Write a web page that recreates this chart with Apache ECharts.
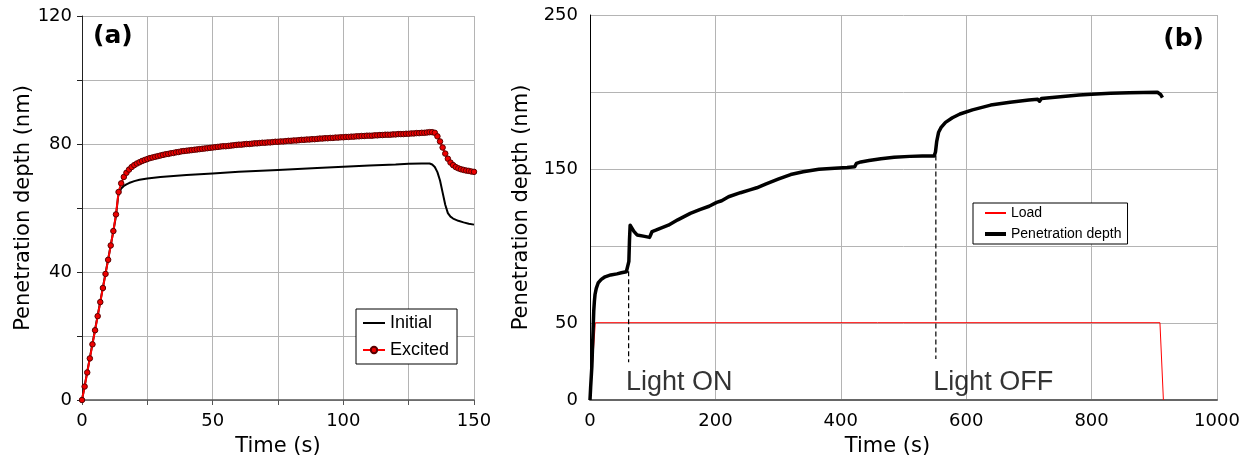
<!DOCTYPE html>
<html>
<head>
<meta charset="utf-8">
<script src="https://cdn.jsdelivr.net/npm/echarts@6.0.0/dist/echarts.min.js"></script>
<style>
    html, body { margin: 0; padding: 0; background: #fff; }
    #chart { width: 1244px; height: 462px; }
</style>
</head>
<body>
<div id="chart"></div>
<script>
// ---- (a) Initial / Excited, 0-150 s ----
var initialA = [[0,0],[2,8.8],[4,17.6],[6,26.4],[8,35.2],[10,44],[12,52.8],[13,57.5],[13.8,63.5],[14.5,65.3],[15,66.1],[16,66.9],[17,67.4],[18,67.8],[20,68.4],[22,68.8],[25,69.2],[30,69.7],[35,70.0],[40,70.3],[50,70.8],[60,71.3],[75,71.9],[90,72.5],[100,72.9],[110,73.3],[120,73.6],[125,73.8],[130,73.9],[133,73.9],[134,73.6],[135,72.8],[136,71.2],[137,68.6],[138,64.8],[139,61.0],[140,58.4],[141,57.3],[142,56.7],[144,56.0],[146,55.5],[148,55.1],[150,54.8]];

// excited run, one sample per second (t = 0..150 s)
var excitedTime = [0,1,2,3,4,5,6,7,8,9,10,11,12,13,14,15,16,17,18,19,20,21,22,23,24,25,26,27,28,29,30,31,32,33,34,35,36,37,38,39,40,41,42,43,44,45,46,47,48,49,50,51,52,53,54,55,56,57,58,59,60,61,62,63,64,65,66,67,68,69,70,71,72,73,74,75,76,77,78,79,80,81,82,83,84,85,86,87,88,89,90,91,92,93,94,95,96,97,98,99,100,101,102,103,104,105,106,107,108,109,110,111,112,113,114,115,116,117,118,119,120,121,122,123,124,125,126,127,128,129,130,131,132,133,134,135,136,137,138,139,140,141,142,143,144,145,146,147,148,149,150];
var excitedDepth = [0,4.2,8.6,13.0,17.4,21.8,26.2,30.6,35.0,39.4,43.8,48.3,52.8,58.0,65.0,67.7,69.7,71.0,72.0,72.8,73.4,73.9,74.3,74.7,75.0,75.3,75.6,75.8,76.0,76.2,76.4,76.6,76.8,76.9,77.1,77.2,77.4,77.5,77.7,77.8,77.9,78.0,78.1,78.2,78.3,78.4,78.5,78.6,78.7,78.8,78.9,79.0,79.1,79.2,79.3,79.3,79.4,79.5,79.6,79.7,79.8,79.8,79.9,80.0,80.0,80.1,80.2,80.2,80.3,80.4,80.4,80.5,80.5,80.6,80.7,80.7,80.8,80.8,80.9,81.0,81.0,81.1,81.1,81.2,81.3,81.3,81.4,81.4,81.5,81.5,81.6,81.7,81.7,81.8,81.8,81.9,81.9,82.0,82.0,82.1,82.1,82.2,82.2,82.3,82.3,82.4,82.4,82.5,82.5,82.6,82.6,82.6,82.7,82.7,82.8,82.8,82.9,82.9,82.9,83.0,83.0,83.1,83.1,83.1,83.2,83.2,83.3,83.3,83.4,83.4,83.5,83.5,83.6,83.7,83.7,83.5,82.4,80.8,78.9,77.0,75.4,74.2,73.4,72.8,72.4,72.1,71.9,71.7,71.6,71.4,71.3];

var depthLabelsA = [0, 40, 80, 120];
var timeLabelsA = [0, 50, 100, 150];

// ---- (b) Load / Penetration depth, 0-1000 s ----
var loadB = [[0,0],[8.5,50.2],[909,50.2],[914.5,0]];
var depthB = [[0,0],[1,8],[3,22],[5,46],[6,58],[7,64],[8,68.5],[10,72.5],[13,76],[18,78.3],[24,80],[33,81.2],[43,81.9],[50,82.6],[58,83.3],[61,83.6],[62,90],[63,104],[64,113.5],[66,112.5],[70,109.5],[75,107.2],[85,106.4],[95,105.6],[97,107.5],[99,109.4],[105,110.3],[112,111.5],[125,113.5],[140,117],[160,121.2],[175,123.6],[190,125.8],[202,128.3],[210,129.4],[221,132],[240,134.6],[255,136.4],[266,137.8],[280,140.2],[300,143.4],[320,146.4],[340,148.2],[365,149.8],[390,150.5],[410,150.9],[422,151.4],[425,153.6],[432,154.6],[445,155.5],[464,156.7],[485,157.6],[510,158.2],[530,158.5],[549,158.5],[551,161],[553,168],[556,173.9],[560,177],[567,180.3],[578,183.3],[590,185.7],[610,188.4],[639,191.5],[670,193.4],[700,194.8],[714,195.3],[717,194.0],[720,195.8],[750,196.9],[780,198.0],[800,198.6],[830,199.2],[860,199.5],[905,199.8],[908,199.7],[910,198.4],[913,196.3]];

var lightOnTime = 61.6;
var lightOnSpan = [24.5, 83.6];
var lightOffTime = 551.6;
var lightOffSpan = [26.6, 158.8];
var lightTexts = [['Light ON', 57.4, 11.5], ['Light OFF', 547.3, 11.5]];

var depthLabelsB = [0, 50, 150, 250];

var excitedA = [];
for (var i = 0; i < excitedTime.length; i++) {
    excitedA.push([excitedTime[i], excitedDepth[i]]);
}

var tickFont = 'DejaVu Sans';
var plainFont = 'Liberation Sans, Arial, sans-serif';
var gridColor = '#b4b4b4';

function onlyLabels(list) {
    return function (v) { return list.indexOf(v) >= 0 ? String(v) : ''; };
}

var chart = echarts.init(document.getElementById('chart'));

var option = {
    animation: false,
    backgroundColor: '#fff',
    grid: [
        { left: 82, right: 770, top: 16, bottom: 59, containLabel: false },
        { left: 590, right: 27, top: 15, bottom: 59, containLabel: false }
    ],
    xAxis: [
        {
            gridIndex: 0, type: 'value', min: 0, max: 150, interval: 25,
            name: 'Time (s)', nameLocation: 'middle', nameGap: 36,
            nameTextStyle: { fontFamily: tickFont, fontSize: 21, color: '#000' },
            axisLine: { lineStyle: { color: '#555', width: 1.5 } },
            axisTick: { show: true, length: 5, lineStyle: { color: '#555' } },
            axisLabel: { formatter: onlyLabels(timeLabelsA), fontFamily: tickFont, fontSize: 18, color: '#000', margin: 12 },
            splitLine: { show: true, lineStyle: { color: gridColor, width: 1 } }
        },
        {
            gridIndex: 1, type: 'value', min: 0, max: 1000, interval: 200,
            name: 'Time (s)', nameLocation: 'middle', nameGap: 36,
            nameTextStyle: { fontFamily: tickFont, fontSize: 21, color: '#000', padding: [0, 32, 0, 0] },
            axisLine: { lineStyle: { color: '#666', width: 2 } },
            axisTick: { show: false },
            axisLabel: { formatter: function (v) { return String(v); }, fontFamily: tickFont, fontSize: 18, color: '#000', margin: 12 },
            splitLine: { show: true, lineStyle: { color: gridColor, width: 1 } }
        }
    ],
    yAxis: [
        {
            gridIndex: 0, type: 'value', min: 0, max: 120, interval: 20,
            name: 'Penetration depth (nm)', nameLocation: 'middle', nameGap: 48,
            nameTextStyle: { fontFamily: tickFont, fontSize: 21, color: '#000' },
            axisLine: { show: true, lineStyle: { color: '#222', width: 1 } },
            axisTick: { show: true, length: 5, lineStyle: { color: '#222' } },
            axisLabel: { formatter: onlyLabels(depthLabelsA), fontFamily: tickFont, fontSize: 18, color: '#000', margin: 10 },
            splitLine: { show: true, lineStyle: { color: gridColor, width: 1 } }
        },
        {
            gridIndex: 1, type: 'value', min: 0, max: 250, interval: 50,
            name: 'Penetration depth (nm)', nameLocation: 'middle', nameGap: 58,
            nameTextStyle: { fontFamily: tickFont, fontSize: 21, color: '#000' },
            axisLine: { show: true, lineStyle: { color: '#000', width: 1 } },
            axisTick: { show: false },
            axisLabel: { formatter: onlyLabels(depthLabelsB), fontFamily: tickFont, fontSize: 18, color: '#000', margin: 12 },
            splitLine: { show: true, lineStyle: { color: gridColor, width: 1 } }
        }
    ],
    legend: [
        {
            data: [
                { name: 'Initial', itemStyle: { opacity: 0 } },
                { name: 'Excited' }
            ],
            orient: 'vertical', left: 356, top: 309,
            itemWidth: 22, itemHeight: 8, itemGap: 9,
            padding: [5, 8, 5, 6],
            borderColor: '#000', borderWidth: 1, borderRadius: 0,
            backgroundColor: '#fff',
            textStyle: { fontFamily: plainFont, fontSize: 18, color: '#000' }
        },
        {
            data: [
                { name: 'Load', itemStyle: { opacity: 0 } },
                { name: 'Penetration depth', itemStyle: { opacity: 0 }, lineStyle: { width: 4 } }
            ],
            orient: 'vertical', left: 973, top: 203,
            itemWidth: 21, itemHeight: 8, itemGap: 7,
            padding: [3, 6, 3, 10],
            borderColor: '#000', borderWidth: 1, borderRadius: 0,
            backgroundColor: '#fff',
            textStyle: { fontFamily: plainFont, fontSize: 14, color: '#000' }
        }
    ],
    graphic: [
        { type: 'text', left: 93, top: 24, style: { text: '(a)', font: 'bold 25px DejaVu Sans', fill: '#000' } },
        { type: 'text', right: 40, top: 27, style: { text: '(b)', font: 'bold 25px DejaVu Sans', fill: '#000' } }
    ],
    series: [
        {
            name: 'Initial', type: 'line', xAxisIndex: 0, yAxisIndex: 0,
            data: initialA, showSymbol: false, symbol: 'none',
            lineStyle: { color: '#000', width: 2 },
            itemStyle: { color: '#000' }
        },
        {
            name: 'Excited', type: 'line', xAxisIndex: 0, yAxisIndex: 0,
            data: excitedA, symbol: 'circle', symbolSize: 5.5, showAllSymbol: true,
            lineStyle: { color: '#ff0000', width: 2 },
            itemStyle: { color: '#ee0000', borderColor: '#5a0000', borderWidth: 1 }
        },
        {
            name: 'Load', type: 'line', xAxisIndex: 1, yAxisIndex: 1,
            data: loadB, showSymbol: false, symbol: 'none',
            lineStyle: { color: '#ff0000', width: 1 },
            itemStyle: { color: '#ff0000' }
        },
        {
            name: 'Penetration depth', type: 'line', xAxisIndex: 1, yAxisIndex: 1,
            data: depthB, showSymbol: false, symbol: 'none',
            lineStyle: { color: '#000', width: 3.5, join: 'round' },
            itemStyle: { color: '#000' }
        },
        {
            name: 'lightOn', type: 'line', xAxisIndex: 1, yAxisIndex: 1,
            data: [[lightOnTime, lightOnSpan[1]], [lightOnTime, lightOnSpan[0]]],
            showSymbol: false, symbol: 'none', silent: true,
            lineStyle: { color: '#000', width: 1.2, type: [5, 3] }
        },
        {
            name: 'lightOff', type: 'line', xAxisIndex: 1, yAxisIndex: 1,
            data: [[lightOffTime, lightOffSpan[1]], [lightOffTime, lightOffSpan[0]]],
            showSymbol: false, symbol: 'none', silent: true,
            lineStyle: { color: '#000', width: 1.2, type: [5, 3] }
        },
        {
            name: 'lightText', type: 'scatter', xAxisIndex: 1, yAxisIndex: 1,
            symbolSize: 0, silent: true,
            data: lightTexts.map(function (d) { return { name: d[0], value: [d[1], d[2]] }; }),
            label: {
                show: true, position: 'right', distance: 0,
                formatter: '{b}', fontFamily: plainFont, fontSize: 27, color: '#000'
            }
        }
    ]
};

chart.setOption(option);
</script>
</body>
</html>
